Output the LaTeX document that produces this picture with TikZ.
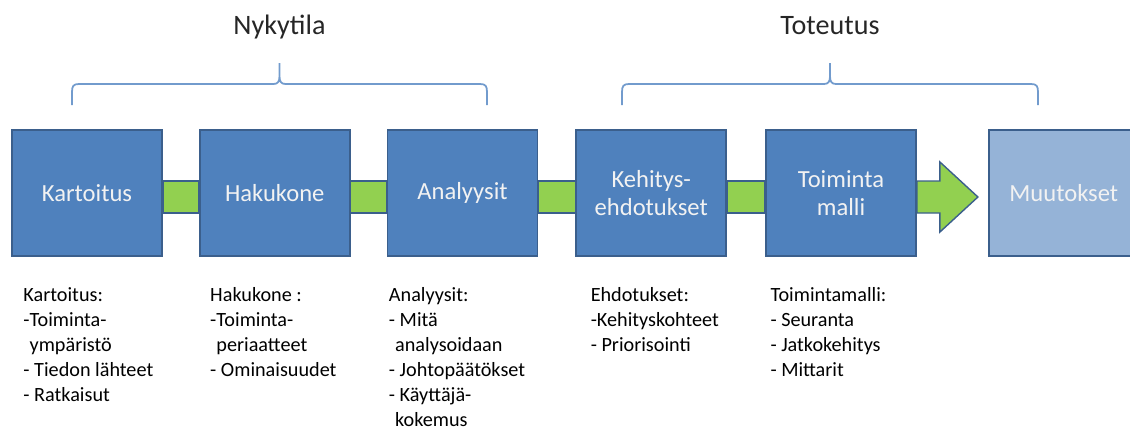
\documentclass[tikz,border=0pt]{standalone}
\usepackage{fontspec}
\setmainfont{Carlito}
\usepackage{tikz}
\usetikzlibrary{positioning, calc}

\definecolor{laatikkosin}{HTML}{4F81BD}
\definecolor{reunasin}{HTML}{3B5F8C}
\definecolor{vaaleasin}{HTML}{95B3D7}
\definecolor{vihrea}{HTML}{92D050}
\definecolor{sulkusin}{HTML}{729BCD}

\begin{document}
\begin{tikzpicture}[
  node distance=0.72cm,
  laatikko/.style={
    draw=reunasin,
    line width=1pt,
    fill=laatikkosin,
    text=white!95!black,
    align=center,
    minimum width=3.0cm,
    minimum height=2.52cm,
    inner sep=2pt,
    font=\fontsize{14}{16}\selectfont
  },
  yhteys/.style={
    draw=reunasin,
    line width=0.8pt,
    fill=vihrea
  },
  sulku/.style={
    draw=sulkusin,
    line width=1pt
  },
  otsikko/.style={
    text=black!85,
    font=\fontsize{16}{19}\selectfont
  },
  selite/.style={
    align=left,
    inner sep=0pt,
    font=\fontsize{11.5}{14.3}\selectfont
  }
]
  \clip (0,0) rectangle (22.6,-8.66);

  % Vaiheet
  \node[laatikko] (kart) at (1.74,-3.86) {Kartoitus};
  \node[laatikko, right=of kart] (haku) {Hakukone};
  \node[laatikko, right=of haku] (anal) {Analyysit};
  \node[laatikko, right=0.74cm of anal] (ehdo) {Kehitys-\\ehdotukset};
  \node[laatikko, right=0.76cm of ehdo] (toim) {Toiminta\\malli};
  \node[laatikko, fill=vaaleasin, right=1.42cm of toim] (muut) {Muutokset};

  % Vihreät yhteydet
  \draw[yhteys] ([yshift=0.24cm]kart.east) rectangle ([yshift=-0.40cm]haku.west);
  \draw[yhteys] ([yshift=0.24cm]haku.east) rectangle ([yshift=-0.40cm]anal.west);
  \draw[yhteys] ([yshift=0.24cm]anal.east) rectangle ([yshift=-0.40cm]ehdo.west);
  \draw[yhteys] ([yshift=0.24cm]ehdo.east) rectangle ([yshift=-0.40cm]toim.west);

  % Nuoli muutoksiin
  \coordinate (nk) at ([yshift=-0.08cm]toim.east);
  \draw[yhteys, line join=miter] (nk) ++(0,0.32) -- ++(0.46,0) -- ++(0,0.38)
    -- ++(0.76,-0.70) -- ++(-0.76,-0.70) -- ++(0,0.38) -- ++(-0.46,0) -- cycle;

  % Aaltosulkeet
  \foreach \a/\b/\nimi in {1.44/9.74/nyky, 12.44/20.76/tote} {
    \pgfmathsetmacro{\m}{(\a+\b)/2}
    \draw[sulku] (\a,-2.10) -- (\a,-1.84)
      .. controls (\a,-1.72) and (\a+0.03,-1.68) .. (\a+0.14,-1.68)
      -- (\m-0.12,-1.68)
      .. controls (\m-0.03,-1.68) and (\m,-1.63) .. (\m,-1.52) -- (\m,-1.26)
      (\m,-1.52) .. controls (\m,-1.63) and (\m+0.03,-1.68) .. (\m+0.12,-1.68)
      -- (\b-0.14,-1.68)
      .. controls (\b-0.03,-1.68) and (\b,-1.72) .. (\b,-1.84) -- (\b,-2.10);
    \coordinate (\nimi) at (\m,-0.68);
  }
  \node[otsikko, anchor=base] (nykyt) at (nyky) {Nykytila};
  \node[otsikko, anchor=base] (toteu) at (tote) {Toteutus};

  % Selitteet
  \node[selite, below right=0.60cm and 0.24cm of kart.south west] (s1)
    {Kartoitus:\\-Toiminta-\\\phantom{-}ympäristö\\- Tiedon lähteet\\- Ratkaisut};
  \node[selite, below right=0.60cm and 0.22cm of haku.south west] (s2)
    {Hakukone :\\-Toiminta-\\\phantom{-}periaatteet\\- Ominaisuudet};
  \node[selite, below right=0.60cm and 0.04cm of anal.south west] (s3)
    {Analyysit:\\- Mitä\\\phantom{-}analysoidaan\\- Johtopäätökset\\- Käyttäjä-\\\phantom{-}kokemus};
  \node[selite, below right=0.60cm and 0.30cm of ehdo.south west] (s4)
    {Ehdotukset:\\-Kehityskohteet\\- Priorisointi};
  \node[selite, below right=0.60cm and 0.10cm of toim.south west] (s5)
    {Toimintamalli:\\- Seuranta\\- Jatkokehitys\\- Mittarit};
\end{tikzpicture}
\end{document}
